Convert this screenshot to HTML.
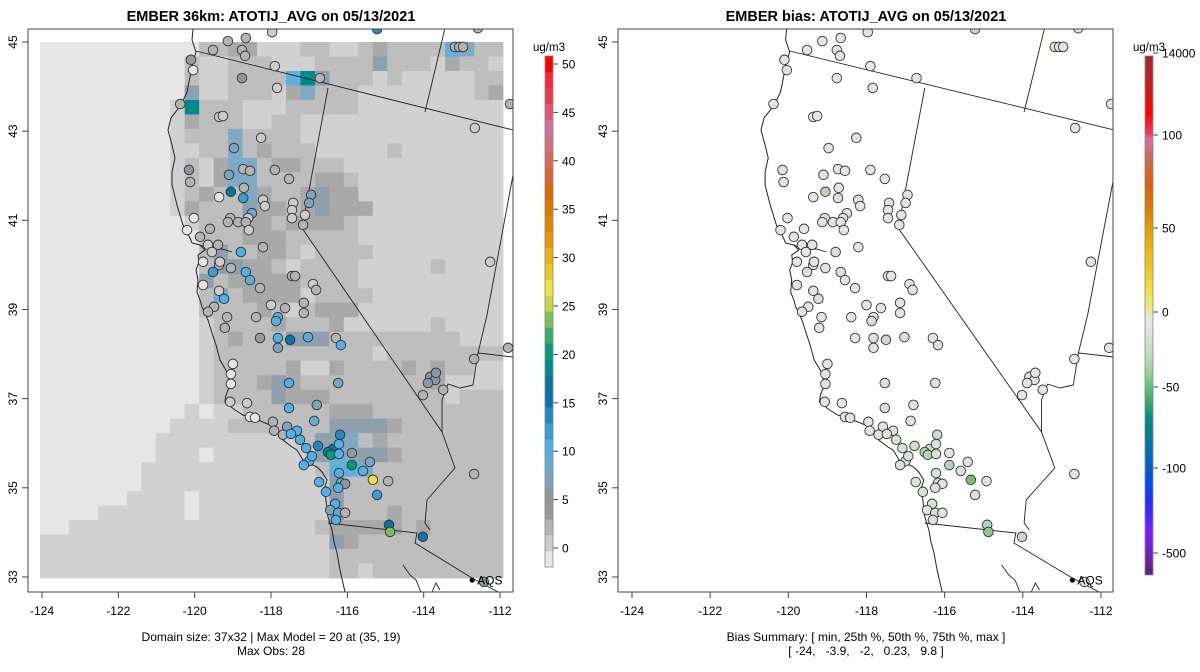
<!DOCTYPE html>
<html><head><meta charset="utf-8">
<style>
html,body{margin:0;padding:0;background:#fff;}
svg{display:block;font-family:"Liberation Sans",Arial,sans-serif;}
</style></head>
<body>
<svg id="fig" width="1200" height="672" viewBox="0 0 1200 672" xmlns="http://www.w3.org/2000/svg">
<rect x="0" y="0" width="1200" height="672" fill="#fff"/>
<text x="271" y="21" text-anchor="middle" font-size="14.5" font-weight="bold">EMBER 36km: ATOTIJ_AVG on 05/13/2021</text>
<text x="866" y="21" text-anchor="middle" font-size="14.5" font-weight="bold">EMBER bias: ATOTIJ_AVG on 05/13/2021</text>
<g id="leftPanel"></g>
<g id="rightPanel"></g>
<text x="271" y="641" text-anchor="middle" font-size="12">Domain size: 37x32 | Max Model = 20 at (35, 19)</text>
<text x="271" y="655" text-anchor="middle" font-size="12">Max Obs: 28</text>
<text x="866" y="641" text-anchor="middle" font-size="12">Bias Summary: [ min, 25th %, 50th %, 75th %, max ]</text>
<text x="866" y="655" text-anchor="middle" font-size="12" xml:space="preserve">[ -24,   -3.9,   -2,   0.23,   9.8 ]</text>
</svg>
<script>
// ---- data ----
const modelRows = [
"aaaaaaaaaaaccddbbbccbbcdccccgfcc",
"aaaaaaaaaacbbcccbbbccccecccbdccb",
"aaaaaaaaaacbbccccgtecccbcbbbbbcc",
"aaaaaaaaaaebbcccbdfcccbbbbbbbbcd",
"aaaaaaaaabtcccbbbcccccbbbbbbbbbb",
"aaaaaaaaabdcccbbccbbbbbbbbbbbbbb",
"aaaaaaaaabcccfccccbbbbbbbbbbbbbb",
"aaaaaaaaabbccfcdcccbbbbbcbbbbbbb",
"aaaaaaaaabcbdffcddcccbbbbbbbbbbb",
"aaaaaaaaabcbdffccccddcbbbbbbbbbb",
"aaaaaaaaabcdccfdccdeddbbbbbbbbbb",
"aaaaaaaaabdccceddcdedddbbbbbbbbb",
"aaaaaaaaaabcccddcddddcbbbbbbbbbb",
"aaaaaaaaaaacccdddcccccbbbbbbbbbb",
"aaaaaaaaaaaceccddcbccccbbbbbbbbb",
"aaaaaaaaaaaceeddcbccccbbbbbcbbbb",
"aaaaaaaaaaaecdddddccccbbbbbbbbbb",
"aaaaaaaaaaacfcddddbccccbbbbbbbbb",
"aaaaaaaaaaaccccdcbcdddbbbbbbbbbb",
"aaaaaaaaaaabccccdcccdbbbbbbcbbbb",
"aaaaaaaaaaabcdccceeecccccccccbbb",
"aaaaaaaaaaabcccccccccccbcccccccc",
"aaaaaaaaaaabcccccdbbdccccdcdccbb",
"aaaaaaaaaaabcccdedcccccccccdbbbb",
"aaaaaaaaaaabccccedddccccccccbccc",
"aaaaaaaaaababbccccccdddccccccccc",
"aaaaaaaaabbbbccccccceeeedccccccc",
"aaaaaaaabbbbbbbbbbceefcdcccccccc",
"aaaaaaaabbbabbbbbbbeffeedccccccc",
"aaaaaaabbbbbbbbbbbbcggfccccccccc",
"aaaaaaabbbbbbbbbbbbbeccccccccccc",
"aaaaaabbbbabbbbbbbbbeccccccccccc",
"aaaabbbbbbabbbbbbbbbecccdccccccc",
"aabbbbbbbbbbbbbbbbbcdddddcdccccc",
"bbbbbbbbbbbbbbbbbbbbedcccccccccc",
"bbbbbbbbbbbbbbbbbbbbcccccccccccc",
"bbbbbbbbbbbbbbbbbbbbccbccccccccc"
];
const levelColors = {a:"#e6e6e6",b:"#d1d1d1",c:"#bebebe",d:"#a9a9a9",e:"#8fa0ad",f:"#7eaac6",g:"#5fb0de",t:"#008a8c"};

const siteLon = [-117.97,-115.22,-112.58,-119.13,-118.66,-119.52,-118.76,-118.68,-120.10,-120.04,
-117.90,-118.76,-116.72,-117.84,-120.38,-119.36,-119.26,-118.26,-118.97,-120.15,
-120.12,-118.73,-118.55,-119.10,-117.90,-117.53,-119.05,-118.71,-118.73,-119.36,
-118.21,-118.16,-116.95,-117.00,-117.42,-117.45,-117.45,-117.11,-117.16,-118.50,
-118.60,-119.07,-119.13,-118.86,-118.66,-118.58,-120.02,-120.20,-119.60,-119.86,
-119.65,-119.39,-119.55,-119.78,-119.36,-118.21,-118.79,-119.34,-118.66,-118.55,
-119.05,-119.52,-119.78,-119.36,-119.23,-118.29,-116.90,-117.45,-117.37,-116.82,
-117.14,-117.14,-118.00,-117.63,-117.82,-117.87,-119.49,-119.65,-119.15,-119.21,
-118.39,-118.29,-117.82,-117.82,-117.50,-117.03,-116.30,-116.17,-119.00,-119.05,
-119.05,-117.53,-116.24,-117.53,-116.80,-119.07,-118.63,-118.55,-118.42,-117.95,
-117.92,-117.58,-117.32,-117.69,-117.48,-117.24,-116.87,-117.08,-116.77,-116.38,
-116.51,-116.43,-116.22,-117.00,-117.14,-116.93,-116.19,-115.88,-116.22,-115.88,
-115.41,-115.59,-116.74,-116.22,-115.33,-114.93,-116.17,-116.06,-116.24,-116.56,
-115.22,-116.32,-116.45,-116.24,-116.06,-116.30,-114.91,-114.88,-114.02,-113.83,
-113.70,-113.89,-113.68,-114.02,-113.49,-112.68,-111.79,-112.68,-112.42,-113.18,
-113.07,-112.97,-111.74,-112.66,-112.26];
const siteLat = [45.22,45.29,45.31,45.02,45.09,44.82,44.82,44.69,44.60,44.37,
44.46,44.19,44.19,43.97,43.61,43.32,43.34,42.85,42.62,42.13,
41.86,42.15,42.11,42.02,42.13,41.93,41.64,41.73,41.50,41.52,
41.46,41.32,41.57,41.39,41.39,41.23,41.05,41.12,40.90,41.16,
41.05,41.05,40.96,40.96,40.96,40.78,41.05,40.78,40.81,40.63,
40.45,40.45,40.29,40.07,40.00,40.40,40.29,40.07,39.84,39.66,
39.93,39.84,39.55,39.42,39.24,39.48,39.57,39.75,39.75,39.44,
39.15,38.92,39.10,39.03,38.83,38.74,39.06,38.95,38.83,38.59,
38.83,38.36,38.36,38.14,38.32,38.38,38.36,38.20,37.78,37.55,
37.33,37.35,37.35,36.79,36.86,36.93,36.90,36.59,36.57,36.48,
36.28,36.37,36.28,36.19,36.21,36.08,36.50,35.89,35.94,35.87,
35.80,35.74,35.98,35.60,35.51,35.71,36.19,35.78,35.76,35.51,
35.58,35.38,35.13,35.33,35.18,35.15,35.11,35.09,35.00,34.91,
34.84,34.64,34.50,34.44,34.44,34.28,34.17,34.01,33.90,37.49,
37.42,37.35,37.58,37.08,37.20,37.89,38.14,35.31,32.89,44.89,
44.89,44.89,43.61,43.07,40.07];
const siteObs = [1,14,3,2,2,2,2,2,4,-1,
1,5,3,1,3,1,1,1,7,6,
3,2,2,8,2,3,18,2,12,-1,
1,1,7,7,1,1,1,1,2,9,
1,3,3,2,2,1,-1,-1,2,2,
1,3,1,-1,2,2,10,1,11,9,
3,12,-1,1,10,3,1,3,3,2,
2,2,1,2,11,11,2,2,2,2,
3,4,10,7,15,10,2,11,-1,-1,
-1,11,7,10,7,1,1,-1,-1,3,
2,7,10,3,10,10,9,10,14,15,
19,20,10,10,10,10,14,4,11,20,
7,10,10,10,28,3,10,6,10,10,
12,10,7,10,3,10,18,24,15,6,
6,6,5,3,3,3,3,3,6,2,
2,2,3,1,1];
const siteBias = [-0.5,-8,-0.5,-0.5,-0.5,-0.5,-0.5,-0.5,-0.5,-0.5,
-0.5,-0.5,-0.5,-0.5,-0.5,-0.5,-0.5,-0.5,-2,-2,
-0.5,-0.5,-0.5,-2,-0.5,-0.5,-12,-0.5,-4,-0.5,
-0.5,-0.5,-2,-2,-0.5,-0.5,-0.5,-0.5,-0.5,-2,
-0.5,-0.5,-0.5,-0.5,-0.5,-0.5,-0.5,-0.5,-0.5,-0.5,
-0.5,-0.5,-0.5,-0.5,-0.5,-0.5,-4,-0.5,-4,-2,
-0.5,-4,-0.5,-0.5,-4,-0.5,-0.5,-0.5,-0.5,-0.5,
-0.5,-0.5,-0.5,-0.5,-4,-4,-0.5,-0.5,-0.5,-0.5,
-0.5,-0.5,-4,-2,-8,-4,-0.5,-4,-0.5,-0.5,
-0.5,-4,-2,-4,-2,-0.5,-0.5,-0.5,-0.5,-0.5,
-0.5,-2,-4,-0.5,-4,-4,-2,-4,-8,-8,
-12,-12,-4,-4,-4,-4,-8,-0.5,-4,-12,
-2,-4,-4,-4,-24,-0.5,-4,-2,-4,-4,
-4,-4,-2,-4,-0.5,-4,-12,-20,-8,-2,
-2,-2,-0.5,-0.5,-0.5,-0.5,-0.5,-0.5,-2,8,
-0.5,-0.5,-0.5,-0.5,-0.5];
const latTicks = [33,35,37,39,41,43,45];
const lonTicks = [-124,-122,-120,-118,-116,-114,-112];
const obsTicks = [0,5,10,15,20,25,30,35,40,45,50];
const obsColors = ["#e6e6e6","#cccccc","#b3b3b3","#9a9a9a","#8a98a4","#7ba4bf","#63acd6","#51b1e6","#3a9dd8","#2388c8","#0b72b4","#00799d","#008a8c","#009c7c","#35ad68","#7cc05a","#c3d84c","#f0e040","#eec82a","#ebb01c","#e69a00","#e28800","#df7800","#db6800","#d86630","#d46c58","#d27080","#d070a0","#e05878","#ea3a58","#f42840","#ff0000"];
const biasTickLabels = ["14000","100","50","0","-50","-100","-500"];

// ---- geometry ----
const NS="http://www.w3.org/2000/svg";
const P = {
  L:{x0:42,sx:38.17,box:[28,29,513,592],cb:545,off:0},
  R:{x0:632,sx:39.08,box:[618,29,1113,592],cb:1145,off:1}
};
function yLat(lat){return 42+(45-lat)*44.58;}
function xLon(p,lon){return p.x0+(lon+124)*p.sx;}
function xPix(p,xl){return p.x0+(xl-42)*p.sx/38.17;}
function mk(tag,attrs,parent){const e=document.createElementNS(NS,tag);for(const k in attrs)e.setAttribute(k,attrs[k]);parent.appendChild(e);return e;}
function obsColor(v){let i=Math.floor((v+1.67)/(5/3));i=Math.max(0,Math.min(obsColors.length-1,i));return obsColors[i];}
function hex(c){return [1,3,5].map(i=>parseInt(c.substr(i,2),16));}
function biasColor(v){
  const st=[[-24,"#78c078"],[-12,"#b2d8b2"],[-8,"#c8dec8"],[-4,"#d8e2d8"],[-2,"#dfe4df"],[0,"#e4e4e4"],[5,"#ebe6c0"],[10,"#ece7a8"]];
  if(v<=st[0][0])return st[0][1];
  for(let i=1;i<st.length;i++){if(v<=st[i][0]){const a=hex(st[i-1][1]),b=hex(st[i][1]);const t=(v-st[i-1][0])/(st[i][0]-st[i-1][0]);return "rgb("+a.map((x,k)=>Math.round(x+(b[k]-x)*t)).join(",")+")";}}
  return st[st.length-1][1];
}
const coast=[[193,29],[192,40],[196,52],[193,62],[187,92],[181,105],[171,118],[168,130],[172,145],[175,158],[172,172],[172,185],[177,205],[183,225],[190,238],[192,243],[200,245],[205,250],[198,255],[199,262],[196,270],[198,280],[197,292],[200,300],[202,307],[208,320],[212,333],[216,345],[220,360],[227,372],[230,385],[226,395],[225,402],[235,410],[243,415],[258,420],[270,425],[278,432],[283,440],[292,447],[297,450],[303,460],[317,467],[322,472],[327,480],[324,490],[326,500],[328,517],[332,530],[334,542],[337,553],[340,570],[345,592]];
const lines=[
 [[200,245],[212,250],[222,249],[232,252]],
 [[196,51],[513,130]],
 [[328,88],[302,228],[442,432],[455,468],[440,485],[427,500],[425,523],[430,530]],
 [[328,523],[417,533],[415,543],[472,578],[513,600]],
 [[445,28],[425,112]],
 [[513,175],[487,315],[478,353],[513,357]],
 [[478,353],[473,385],[460,388],[448,384],[442,400],[442,432]],
 [[403,565],[410,575],[416,580],[421,592]],
 [[432,592],[436,583],[440,590]]
];

function drawPanel(p,g,isBias){
  const [bx0,by0,bx1,by1]=p.box;
  const clipId="clip"+p.off;
  const defs=mk("defs",{},g);const cp=mk("clipPath",{id:clipId},defs);
  mk("rect",{x:bx0,y:by0,width:bx1-bx0,height:by1-by0},cp);
  const inner=mk("g",{"clip-path":"url(#"+clipId+")"},g);
  if(!isBias){
    const cw=(503-40)/32, ch=(578-42)/37;
    modelRows.forEach((row,r)=>{
      for(let c=0;c<32;c++){
        const cell=mk("rect",{x:(xPix(p,40+c*cw)).toFixed(2),y:(42+r*ch).toFixed(2),width:(cw*p.sx/38.17+0.4).toFixed(2),height:(ch+0.4).toFixed(2),fill:levelColors[row[c]]},inner);
        
        
      }
    });
  }
  const cpath=mk("polyline",{points:coast.map(q=>xPix(p,q[0]).toFixed(1)+","+q[1]).join(" "),fill:"none",stroke:"#222","stroke-width":"1"},inner);
  
  
  lines.forEach(l=>{
    const pl=mk("polyline",{points:l.map(q=>xPix(p,q[0]).toFixed(1)+","+q[1]).join(" "),fill:"none",stroke:"#222","stroke-width":"0.9"},inner);
    
    
  });
  siteLon.forEach((lon,i)=>{
    const fill=isBias?biasColor(siteBias[i]):obsColor(siteObs[i]);
    const c=mk("circle",{cx:xLon(p,lon).toFixed(1),cy:yLat(siteLat[i]).toFixed(1),r:"4.8",fill:fill,stroke:"#333","stroke-width":"0.9"},inner);
    
    
  });
  const ax=xLon(p,-112.73), ay=yLat(32.93);
  const ad=mk("circle",{cx:ax,cy:ay,r:"2.6",fill:"#000"},g);
  
  
  const at=mk("text",{x:ax+5,y:ay+4.5,"font-size":"12"},g);at.textContent="AQS";
  
  
  const box=mk("rect",{x:bx0,y:by0,width:bx1-bx0,height:by1-by0,fill:"none",stroke:"#444","stroke-width":"1"},g);
  
  
  lonTicks.forEach(t=>{
    const x=xLon(p,t);
    const tk=mk("line",{x1:x,y1:by1,x2:x,y2:by1+6,stroke:"#444"},g);
    
    
    const tx=mk("text",{x:x,y:by1+23,"text-anchor":"middle","font-size":"12"},g);tx.textContent=String(t);
    
    
  });
  latTicks.forEach(t=>{
    const y=yLat(t);
    const tk=mk("line",{x1:bx0,y1:y,x2:bx0-6,y2:y,stroke:"#444"},g);
    
    
    const tx=mk("text",{x:bx0-11,y:y,"text-anchor":"middle","font-size":"12",transform:"rotate(-90 "+(bx0-11)+" "+y+")"},g);tx.textContent=String(t);
    
    
  });
  const cx=p.cb, top=56, bot=567;
  const ut=mk("text",{x:cx+4,y:51,"text-anchor":"middle","font-size":"11.5"},g);ut.textContent="ug/m3";
  
  
  if(!isBias){
    const bh=(bot-top)/obsColors.length;
    obsColors.forEach((col,i)=>{
      const r=mk("rect",{x:cx,y:(bot-(i+1)*bh).toFixed(2),width:8,height:(bh+0.3).toFixed(2),fill:col},g);
      
      
    });
    obsTicks.forEach(t=>{
      const y=548-t*9.68;
      const tk=mk("line",{x1:cx+8,y1:y,x2:cx+13,y2:y,stroke:"#444"},g);
      
      
      const tx=mk("text",{x:cx+17,y:y+4.5,"font-size":"12"},g);tx.textContent=String(t);
      
      
    });
  } else {
    const gid="bgrad";
    const lg=mk("linearGradient",{id:gid,x1:"0",y1:"0",x2:"0",y2:"1"},defs);
    const stops=[[0,"#9a2a2a"],[0.06,"#c81e1e"],[0.11,"#ff0000"],[0.15,"#e84060"],[0.16,"#d070a0"],[0.2,"#d06a50"],[0.25,"#d86000"],[0.3,"#e08000"],[0.335,"#e8a000"],[0.4,"#f0c020"],[0.45,"#f0e040"],[0.5,"#ece8b0"],[0.5,"#e6e6e6"],[0.52,"#e6e6e6"],[0.58,"#b8dcb8"],[0.62,"#88cc88"],[0.66,"#40b070"],[0.7,"#008a80"],[0.76,"#0070b0"],[0.82,"#0050e0"],[0.86,"#2030ff"],[0.92,"#8020f0"],[1,"#602080"]];
    stops.forEach(s=>mk("stop",{offset:s[0],"stop-color":s[1]},lg));
    const r=mk("rect",{x:cx,y:top,width:8,height:bot+8-top,fill:"url(#"+gid+")"},g);
    
    
    const ty=[53,135,228,312,387,468,553];
    biasTickLabels.forEach((lab,i)=>{
      const tk=mk("line",{x1:cx+8,y1:ty[i],x2:cx+13,y2:ty[i],stroke:"#444"},g);
      
      
      const tx=mk("text",{x:cx+17,y:ty[i]+4.5,"font-size":"12"},g);tx.textContent=lab;
      
      
    });
  }
  mk("rect",{x:cx,y:top,width:8,height:(isBias?bot+8:bot)-top,fill:"none",stroke:"#888","stroke-width":"0.8"},g);
}
drawPanel(P.L,document.getElementById("leftPanel"),false);
drawPanel(P.R,document.getElementById("rightPanel"),true);
</script>
</body></html>
